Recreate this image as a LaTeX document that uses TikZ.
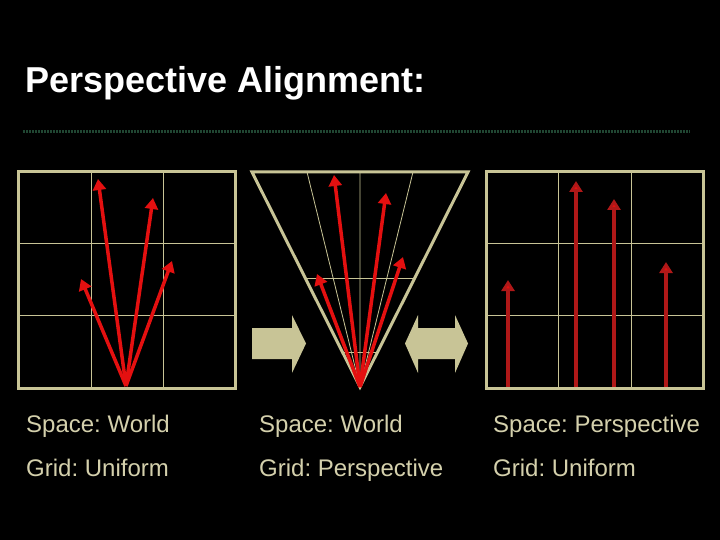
\documentclass[tikz,border=0pt]{standalone}
\usepackage{fontspec}
\setmainfont{Liberation Sans}
\usetikzlibrary{arrows.meta}
\definecolor{khaki}{RGB}{200,196,150}
\definecolor{pale}{RGB}{212,208,172}
\definecolor{vecred}{RGB}{228,16,16}
\definecolor{darkred}{RGB}{175,24,24}
\definecolor{rulegreen}{RGB}{32,70,50}
\frenchspacing

\begin{document}
\begin{tikzpicture}[x=1pt,y=-1pt,
	frame/.style={line width=3pt,draw=khaki},
	gridline/.style={line width=0.8pt,draw=khaki},
	vec/.style={line width=3.5pt,draw=vecred,-{Triangle[width=13pt,length=11pt]}},
	upvec/.style={line width=3.5pt,draw=darkred,-{Triangle[width=13pt,length=11pt,fill=vecred]}},
	infotext/.style={anchor=base west,inner sep=0pt,text=pale,font=\fontsize{24}{28}\selectfont},
	bigarrow/.style={fill=khaki}]
			\fill[black](0,0)rectangle(720,540);
			\node[anchor=base west,inner sep=0pt,text=white,font=\fontsize{36}{42}\selectfont\bfseries](title)at(25,93){Perspective Alignment:};
			\draw[rulegreen,line width=3pt,dash pattern=on 2pt off 1pt](23,132)--(690,132);
			% world space, uniform grid
			\draw[gridline](91,172)--(91,388) (163,172)--(163,388) (18,243)--(235,243) (18,315)--(235,315);
			\draw[frame](18,172)rectangle(235,388);
			\coordinate(O1)at(126,386);
			\draw[vec](O1)--(98,179);
			\draw[vec](O1)--(153,198);
			\draw[vec](O1)--(172,261);
			\draw[vec](O1)--(81,279);
			% world space, perspective grid
			\coordinate(O2)at(360,387);
			\draw[gridline](O2)--(307,172) (O2)--(360,172) (O2)--(413,172);
			\draw[gridline](305,278)--(415,278) (342,352)--(378,352);
			\draw[frame,line join=miter](252,172)--(468,172)--(O2)--cycle;
			\draw[vec](O2)--(334,175);
			\draw[vec](O2)--(386,193);
			\draw[vec](O2)--(403,257);
			\draw[vec](O2)--(317,274);
			\fill[bigarrow](252,328)--(292,328)--(292,315)--(306,343.5)--(292,373)--(292,359)--(252,359)--cycle;
			\fill[bigarrow](405,343.5)--(418,315)--(418,328)--(455,328)--(455,315)--(468,343.5)--(455,373)--(455,359)--(418,359)--(418,373)--cycle;
			% perspective space, uniform grid
			\draw[gridline](558,172)--(558,388) (631,172)--(631,388) (486,243)--(703,243) (486,315)--(703,315);
			\draw[frame](486,172)rectangle(703,388);
			\draw[upvec](508,387)--(508,280);
			\draw[upvec](576,387)--(576,181);
			\draw[upvec](614,387)--(614,199);
			\draw[upvec](666,387)--(666,262);
			% captions
			\node[infotext](s1)at(26,432){Space: World};
			\node[infotext](g1)at(26,476){Grid: Uniform};
			\node[infotext](s2)at(259,432){Space: World};
			\node[infotext](g2)at(259,476){Grid: Perspective};
			\node[infotext](s3)at(493,432){Space: Perspective};
			\node[infotext](g3)at(493,476){Grid: Uniform};
\end{tikzpicture}
\end{document}
